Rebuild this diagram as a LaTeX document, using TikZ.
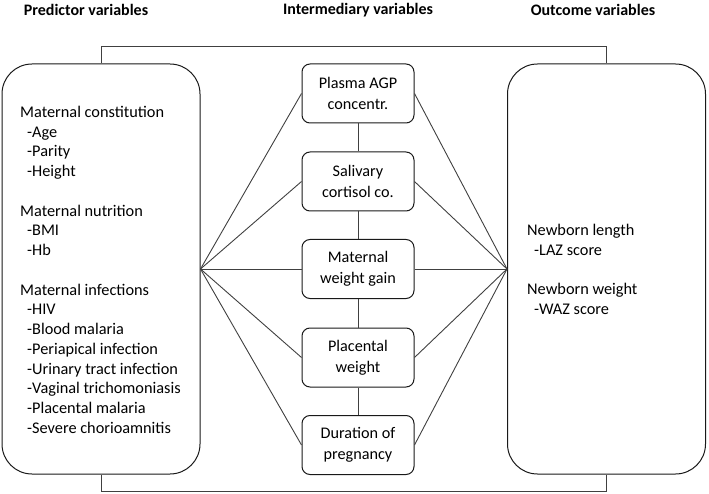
\documentclass[tikz,border=0pt]{standalone}
\usepackage{fontspec}
\setmainfont{Carlito}
\begin{document}
\begin{tikzpicture}[x=1pt,y=-1pt,
  bigbox/.style={draw=black!90, rounded corners=30pt, minimum width=198pt, minimum height=410pt, line width=1pt, inner sep=0pt},
  midbox/.style={draw=black!90, rounded corners=8pt, minimum width=112pt, minimum height=59pt, line width=1pt, align=center, inner sep=0pt, font=\fontsize{16.2}{21}\selectfont},
  head/.style={font=\fontsize{16}{18}\selectfont\bfseries, inner sep=0pt},
  link/.style={draw=black!75, line width=0.9pt},
  body/.style={align=left, inner sep=0pt, anchor=north west, font=\fontsize{16.3}{19.75}\selectfont}]
\useasboundingbox (0,0) rectangle (709,494);

% headers
\node[head] (h1) at (86,10) {Predictor variables};
\node[head] (h2) at (358,10) {Intermediary variables};
\node[head] (h3) at (593,10) {Outcome variables};

% big boxes
\node[bigbox] (pred) at (101,269) {};
\node[bigbox] (out) at (606.5,269) {};

\node[body] (predtxt) at (20,105.8) {Maternal constitution\\
\hspace*{7pt}-Age\\
\hspace*{7pt}-Parity\\
\hspace*{7pt}-Height\\[19.75pt]
Maternal nutrition\\
\hspace*{7pt}-BMI\\
\hspace*{7pt}-Hb\\[19.75pt]
Maternal infections\\
\hspace*{7pt}-HIV\\
\hspace*{7pt}-Blood malaria\\
\hspace*{7pt}-Periapical infection\\
\hspace*{7pt}-Urinary tract infection\\
\hspace*{7pt}-Vaginal trichomoniasis\\
\hspace*{7pt}-Placental malaria\\
\hspace*{7pt}-Severe chorioamnitis};

\node[body] (outtxt) at (527,223.8) {Newborn length\\
\hspace*{7pt}-LAZ score\\[19.75pt]
Newborn weight\\
\hspace*{7pt}-WAZ score};

% middle boxes
\node[midbox] (m1) at (358,93.5) {Plasma AGP\\concentr.};
\node[midbox] (m2) at (358,181.5) {Salivary\\cortisol co.};
\node[midbox] (m3) at (358,269) {Maternal\\weight gain};
\node[midbox] (m4) at (358,357.5) {Placental\\weight};
\node[midbox] (m5) at (358,445) {Duration of\\pregnancy};

% vertical links
\draw[link] (m1.south) -- (m2.north);
\draw[link] (m2.south) -- (m3.north);
\draw[link] (m3.south) -- (m4.north);
\draw[link] (m4.south) -- (m5.north);

% fans
\foreach \m in {m1,m2,m3,m4,m5}{
  \draw[link] (pred.east) -- (\m.west);
  \draw[link] (out.west) -- (\m.east);
}

% brackets
\draw[link] (pred.north) -- ++(0,-17) -| (out.north);
\draw[link] (pred.south) -- ++(0,17) -| (out.south);
\end{tikzpicture}
\end{document}
